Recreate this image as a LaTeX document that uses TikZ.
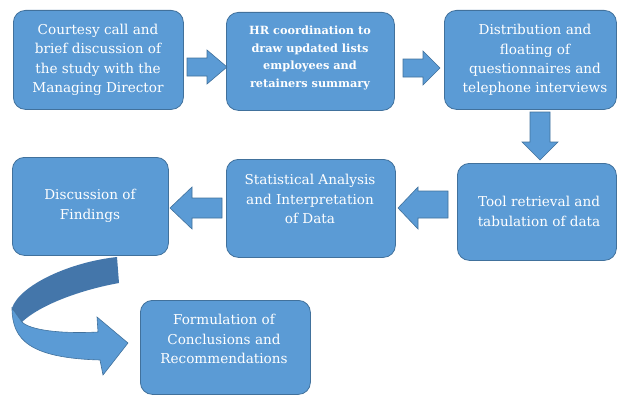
\documentclass[tikz,border=0pt]{standalone}
\usepackage{fontspec}
\setmainfont{DejaVu Serif}
\definecolor{boxfill}{RGB}{91,155,213}
\definecolor{boxline}{RGB}{65,113,156}
\definecolor{ribbondark}{RGB}{68,118,170}
\begin{document}
\begin{tikzpicture}[x=1pt,y=-1pt,
  stage/.style={draw=boxline, fill=boxfill, line width=0.8pt,
    rounded corners=12pt, anchor=north west, inner sep=0pt},
  txt/.style={text=white, align=center, font=\fontsize{13.6}{19.4}\selectfont, inner sep=0pt},
  smalltxt/.style={txt, font=\bfseries\fontsize{11.3}{17.5}\selectfont},
  blockarrow/.style={draw=boxline, fill=boxfill, line width=0.6pt, line join=miter}]
\useasboundingbox (0,0) rectangle (617,396);

% process boxes
\node[stage, minimum width=170pt, minimum height=99pt] (b1) at (13,10) {};
\node[stage, minimum width=168pt, minimum height=98pt] (b2) at (226,12) {};
\node[stage, minimum width=172pt, minimum height=99pt] (b3) at (444,10) {};
\node[stage, minimum width=156pt, minimum height=98pt] (b4) at (12,157) {};
\node[stage, minimum width=169pt, minimum height=98pt] (b5) at (226,159) {};
\node[stage, minimum width=159pt, minimum height=97pt] (b6) at (457,163) {};
\node[stage, minimum width=170pt, minimum height=94pt] (b7) at (140,300) {};

% box labels
\node[txt] (t1) at (98,60) {Courtesy call and\\brief discussion of\\the study with the\\Managing Director};
\node[smalltxt] (t2) at (310,58) {HR coordination to\\draw updated lists\\employees and\\retainers summary};
\node[txt] (t3) at (535,60) {Distribution and\\floating of\\questionnaires and\\telephone interviews};
\node[txt] (t4) at (90,206) {Discussion of\\Findings};
\node[txt] (t5) at (310,199) {Statistical Analysis\\and Interpretation\\of Data};
\node[txt] (t6) at (539,211.5) {Tool retrieval and\\tabulation of data};
\node[txt] (t7) at (224,339) {Formulation of\\Conclusions and\\Recommendations};

% block arrows between boxes
\draw[blockarrow] (187,58) -- (207,58) -- (207,50) -- (227,67) -- (207,84) -- (207,76) -- (187,76) -- cycle;
\draw[blockarrow] (403,59) -- (423,59) -- (423,51) -- (440,68) -- (423,85) -- (423,77) -- (403,77) -- cycle;
\draw[blockarrow] (530,112) -- (550,112) -- (550,142) -- (558,142) -- (540,160) -- (522,142) -- (530,142) -- cycle;
\draw[blockarrow] (448,191) -- (418,191) -- (418,187) -- (398,208) -- (418,229) -- (418,218) -- (448,218) -- cycle;
\draw[blockarrow] (222,198) -- (192,198) -- (192,187) -- (170,208) -- (192,229) -- (192,218) -- (222,218) -- cycle;

% curved ribbon arrow: back part, then front part with head
\fill[ribbondark] (117,257) .. controls (70,262) and (20,285) .. (12,308)
  -- (22,322) .. controls (40,305) and (80,290) .. (119,283) -- cycle;
\draw[blockarrow] (12,308) .. controls (12,340) and (30,358) .. (100,360)
  -- (103,375) -- (128,343) -- (97,317) -- (98,332)
  .. controls (60,334) and (30,330) .. (22,322) -- cycle;
\end{tikzpicture}
\end{document}
